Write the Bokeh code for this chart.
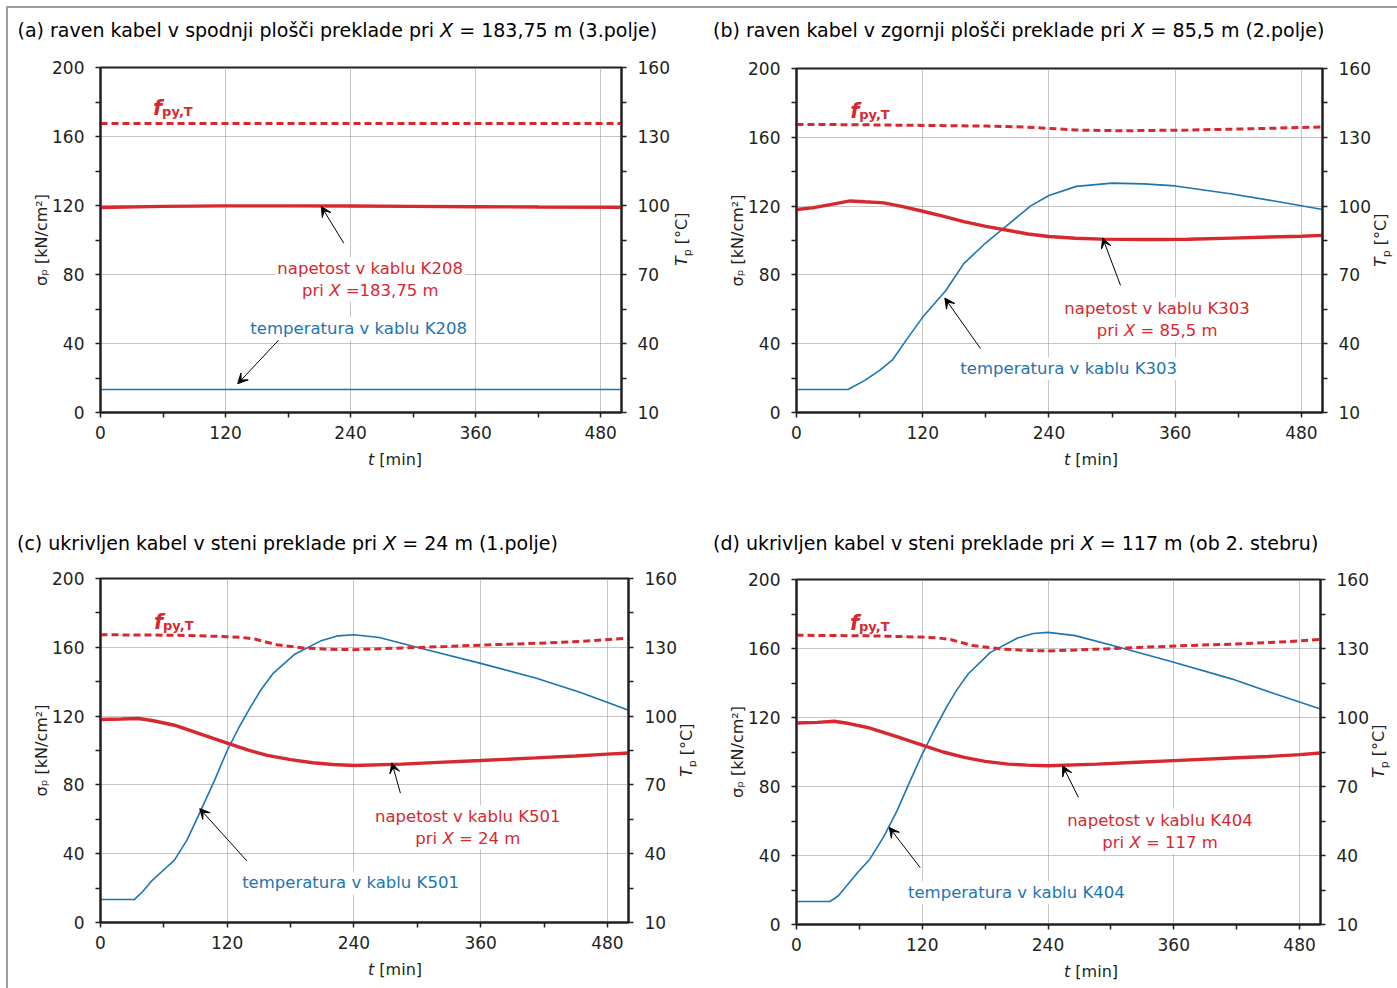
import math
from bokeh.plotting import figure
from bokeh.models import Range1d, LinearAxis, Label, Arrow, VeeHead, FixedTicker, Div
from bokeh.layouts import row, column
from bokeh.embed import file_html
from bokeh.resources import INLINE

# ---------------- data ----------------
x_ticks = [0, 120, 240, 360, 480]
x_minor = [60, 180, 300, 420]
sig_ticks = [0, 40, 80, 120, 160, 200]
sig_minor = [20, 60, 100, 140, 180]
temp_ticks = [10, 40, 70, 100, 130, 160]
temp_minor = [25, 55, 85, 115, 145]

# (a)
a_t_sig = [0, 60, 120, 180, 240, 300, 360, 420, 500]
a_sig = [118.8, 119.5, 119.8, 119.8, 119.7, 119.5, 119.3, 119.1, 118.9]
a_t_fpy = [0, 500]
a_fpy = [167.5, 167.5]
a_t_temp = [0, 500]
a_temp = [20.0, 20.0]

# (b)
b_t_sig = [0, 15, 32, 51, 65, 83, 100, 120, 140, 159, 180, 202, 220, 240, 265, 290, 330, 372, 414, 450, 480, 500]
b_sig = [118.0, 119.0, 120.9, 123.0, 122.5, 121.9, 119.8, 117.0, 114.0, 111.0, 108.2, 105.8, 103.8, 102.3, 101.3, 100.8, 100.6, 100.7, 101.4, 102.0, 102.5, 103.0]
b_t_fpy = [0, 60, 120, 180, 220, 240, 266, 308, 372, 435, 500]
b_fpy = [167.5, 167.3, 166.9, 166.5, 165.9, 165.2, 164.2, 163.8, 164.2, 165.0, 166.0]
b_t_temp = [0, 49, 65, 79, 91, 105, 120, 142, 159, 180, 202, 223, 240, 266, 300, 330, 360, 414, 457, 500]
b_temp = [20, 20, 24, 28.4, 32.8, 42, 51.6, 63.2, 74.9, 84, 92.3, 100.2, 104.6, 108.6, 110, 109.7, 108.8, 105.3, 102, 98.5]

# (c)
c_t_sig = [0, 20, 36, 50, 70, 95, 120, 140, 158, 180, 201, 220, 240, 285, 320, 360, 412, 450, 480, 501]
c_sig = [118.0, 118.3, 118.6, 117.3, 114.7, 109.5, 104.3, 100.2, 97.2, 94.7, 92.9, 91.9, 91.3, 92.1, 93.1, 94.2, 95.7, 96.8, 97.9, 98.6]
c_t_fpy = [0, 74, 120, 133, 146, 167, 192, 215, 240, 285, 327, 370, 412, 454, 501]
c_fpy = [167.3, 167.0, 166.2, 165.8, 164.8, 161.5, 159.6, 158.9, 158.6, 159.6, 160.5, 161.5, 162.3, 163.4, 165.4]
c_t_temp = [0, 32, 40, 49, 60, 70, 82, 95, 108, 120, 131, 142, 152, 163, 184, 209, 225, 240, 264, 306, 360, 412, 454, 501]
c_temp = [20, 20, 23.5, 28.4, 33, 37.2, 46, 58.9, 72, 85, 95, 103.9, 111.5, 118.4, 127, 132.9, 135, 135.5, 134.3, 129.3, 123, 116.6, 110.4, 102.4]

# (d)
d_t_sig = [0, 20, 36, 50, 70, 95, 120, 140, 160, 180, 202, 220, 240, 287, 320, 360, 415, 450, 480, 500]
d_sig = [116.8, 117.2, 117.8, 116.5, 113.9, 109.0, 104.0, 100.0, 96.9, 94.6, 93.0, 92.4, 92.0, 93.0, 93.9, 95.0, 96.5, 97.4, 98.5, 99.4]
d_t_fpy = [0, 74, 120, 134, 147, 168, 194, 215, 240, 287, 330, 372, 415, 457, 500]
d_fpy = [167.7, 167.3, 166.6, 166.2, 165.2, 161.7, 159.8, 159.0, 158.6, 159.6, 160.7, 161.7, 162.5, 163.6, 165.2]
d_t_temp = [0, 32, 40, 50, 60, 70, 83, 96, 108, 120, 132, 143, 153, 164, 185, 211, 226, 240, 266, 308, 360, 415, 457, 500]
d_temp = [20, 20, 22.5, 28, 33.5, 38.4, 48, 59.5, 72, 84.1, 95, 104.4, 112, 119, 128.3, 134.6, 136.5, 137, 135.6, 130.5, 124, 116.8, 110.2, 103.7]

titles_html = [
    "(a) raven kabel v spodnji plošči preklade pri <i>X</i> = 183,75 m (3.polje)",
    "(b) raven kabel v zgornji plošči preklade pri <i>X</i> = 85,5 m (2.polje)",
    "(c) ukrivljen kabel v steni preklade pri <i>X</i> = 24 m (1.polje)",
    "(d) ukrivljen kabel v steni preklade pri <i>X</i> = 117 m (ob 2. stebru)",
]
sig_label = "σₚ [kN/cm²]"
temp_label_html = '<i>T</i><sub style="font-size:11px">p</sub> [°C]'
time_label_html = '<i>t</i> [min]'
red_line1 = ["napetost v kablu K208", "napetost v kablu K303", "napetost v kablu K501", "napetost v kablu K404"]
red_line2 = [("pri ", "X", " =183,75 m"), ("pri ", "X", " = 85,5 m"), ("pri ", "X", " = 24 m"), ("pri ", "X", " = 117 m")]
blue_text = ["temperatura v kablu K208", "temperatura v kablu K303", "temperatura v kablu K501", "temperatura v kablu K404"]

# ---------------- styling helpers ----------------
FONT = "DejaVu Sans"
RED = "#d7282f"
BLUE = "#1b75b3"
INK = "#231f20"
GRID = "#8c8c8c"

W = {' ': .318, '(': .390, ')': .390, ',': .318, '.': .318, '=': .838, '[': .390, ']': .390, '/': .337,
     '°': .500, 'a': .613, 'b': .635, 'c': .550, 'č': .550, 'd': .635, 'e': .615, 'i': .278, 'j': .278,
     'k': .579, 'l': .278, 'm': .974, 'n': .634, 'o': .612, 'p': .635, 'r': .411, 's': .521, 'š': .521,
     't': .392, 'u': .634, 'v': .592, 'z': .525, 'g': .635, 'C': .698, 'K': .656, 'N': .748, 'T': .611,
     'X': .685, 'σ': .635}
for _d in "0123456789":
    W[_d] = .636


def tw(s, size):
    return sum(W.get(ch, .6) for ch in s) * size


def rich(p, parts, x, y, units="data", align="center", bg=None):
    total = sum(tw(s, sz) for s, sz, *_ in parts)
    cum = -total / 2 if align == "center" else 0.0
    for s, sz, style, color, shift in parts:
        lead = len(s) - len(s.lstrip())
        txt = s.strip()
        off = cum + tw(s[:lead], sz)
        cum += tw(s, sz)
        if not txt:
            continue
        kw = {}
        if bg:
            kw = dict(background_fill_color=bg, padding=2)
        p.add_layout(Label(x=x, y=y, x_units=units, y_units=units, text=txt, x_offset=off, y_offset=shift,
                           text_font=FONT, text_font_size=f"{sz}px", text_font_style=style,
                           text_color=color, text_align="left", text_baseline="alphabetic", **kw))


def style_axis(ax, standoff, label=None, label_standoff=0):
    ax.axis_line_color = INK
    ax.axis_line_width = 2
    ax.major_tick_line_color = INK
    ax.minor_tick_line_color = INK
    ax.major_tick_line_width = 1.5
    ax.minor_tick_line_width = 1.5
    ax.major_tick_in = 0
    ax.major_tick_out = 5
    ax.minor_tick_in = 0
    ax.minor_tick_out = 5
    ax.major_label_text_font = FONT
    ax.major_label_text_font_size = "17px"
    ax.major_label_text_color = INK
    ax.major_label_standoff = standoff
    if label is not None:
        ax.axis_label = label
        ax.axis_label_text_font = FONT
        ax.axis_label_text_font_size = "16px"
        ax.axis_label_text_font_style = "normal"
        ax.axis_label_text_color = INK
        ax.axis_label_standoff = label_standoff


def title_div(i, width, height, pad_top, pad_left):
    html = (f'<div style="font-family:\'DejaVu Sans\'; font-size:19px; line-height:22px; '
            f'padding-top:{pad_top}px; padding-left:{pad_left}px; white-space:nowrap; color:#000; margin:0">'
            f'{titles_html[i]}</div>')
    return Div(text=html, width=width, height=height, margin=0)


def right_label_div(width, height, left, start):
    html = (f'<div style="width:0; height:0; margin:0; margin-left:{left}px; margin-top:{start:.1f}px;">'
            f'<div style="transform:rotate(-90deg); transform-origin:0 0; white-space:nowrap; '
            f'font-family:\'DejaVu Sans\'; font-size:16px; line-height:16px; color:{INK}">'
            f'{temp_label_html}</div></div>')
    return Div(text=html, width=width, height=height, margin=0)


def bottom_label_div(width, height, left, top):
    html = (f'<div style="margin:0; padding-top:{top:.2f}px; padding-left:{left}px; white-space:nowrap; '
            f'font-family:\'DejaVu Sans\'; font-size:16px; line-height:16px; color:{INK}">'
            f'{time_label_html}</div>')
    return Div(text=html, width=width, height=height, margin=0)


def panel(i, width, height, bl, br, bt, bb, ts, ss, tf, sf, tt, st, red_pos, blue_pos, red_arrow, blue_arrow,
          fpy_pos):
    p = figure(width=width, height=height, x_range=Range1d(0, 500), y_range=Range1d(0, 200),
               output_backend="svg", toolbar_location=None,
               min_border_left=bl, min_border_right=br, min_border_top=bt, min_border_bottom=bb)
    p.extra_y_ranges = {"T": Range1d(10, 160)}
    p.background_fill_color = "white"
    p.border_fill_color = "white"
    p.outline_line_color = INK
    p.outline_line_width = 2

    p.xaxis.ticker = FixedTicker(ticks=x_ticks, minor_ticks=x_minor)
    p.yaxis.ticker = FixedTicker(ticks=sig_ticks, minor_ticks=sig_minor)
    rax = LinearAxis(y_range_name="T", ticker=FixedTicker(ticks=temp_ticks, minor_ticks=temp_minor))
    p.add_layout(rax, "right")
    style_axis(p.xaxis[0], 8)
    style_axis(p.yaxis[0], 11, sig_label, -2)
    style_axis(rax, 11)

    p.xgrid.ticker = FixedTicker(ticks=x_ticks[1:])
    p.ygrid.ticker = FixedTicker(ticks=sig_ticks[1:-1])
    for g in (p.xgrid[0], p.ygrid[0]):
        g.grid_line_color = GRID
        g.grid_line_dash = "1 1"
        g.grid_line_width = 1

    # series
    p.line(tt, st, line_color=BLUE, line_width=1.6, y_range_name="T")
    p.line(tf, sf, line_color=RED, line_width=3, line_dash="7 4")
    p.line(ts, ss, line_color=RED, line_width=3.4)

    # arrows
    for (x0, y0, x1, y1) in (red_arrow, blue_arrow):
        p.add_layout(Arrow(x_start=x0, y_start=y0, x_end=x1, y_end=y1, line_color="black", line_width=1,
                           end=VeeHead(size=10, line_color="black", fill_color="black", line_width=1)))

    # annotation texts
    rx, ry1, ry2 = red_pos
    rich(p, [(red_line1[i], 16.5, "normal", RED, 0)], rx, ry1, bg="white")
    a_, b_, c_ = red_line2[i]
    rich(p, [(a_, 16.5, "normal", RED, 0), (b_, 16.5, "italic", RED, 0), (c_, 16.5, "normal", RED, 0)],
         rx, ry2, bg="white")
    bx, by = blue_pos
    rich(p, [(blue_text[i], 16.5, "normal", BLUE, 0)], bx, by, bg="white")

    fx, fy = fpy_pos
    p.add_layout(Label(x=fx, y=fy, text="f", text_font=FONT, text_font_size="21px", text_font_style="bold italic",
                       text_color=RED, text_align="left", text_baseline="alphabetic"))
    p.add_layout(Label(x=fx, y=fy, x_offset=9, y_offset=-3.5, text="py,T", text_font=FONT, text_font_size="13px",
                       text_font_style="bold", text_color=RED, text_align="left", text_baseline="alphabetic"))
    return p


RLEN = 53.5   # approx. length of the rotated right-axis title
AXB = 40      # space kept under the frame for the x tick labels
XLAB_BASE = 54  # baseline of "t [min]" below the frame


def build(i, col_w, fig_h, bl, frame_w, br, bt, bb, title_h, title_pad, title_left, lab_left, *args):
    fig_w = bl + frame_w + br
    fh = fig_h - bt - bb
    new_h = bt + fh + AXB
    p = panel(i, fig_w, new_h, bl, br, bt, AXB, *args)
    rdiv = right_label_div(col_w - fig_w, new_h, lab_left, bt + fh / 2 + RLEN / 2)
    bdiv = bottom_label_div(col_w, bb - AXB, bl + 268, XLAB_BASE - AXB - 13.55)
    return column(title_div(i, col_w, title_h, title_pad, title_left), row(p, rdiv, spacing=0), bdiv, spacing=0)


col_a = build(0, 688, 462, 92, 522, 50, 19, 98, 40, 11.4, 9.5, 2,
              a_t_sig, a_sig, a_t_fpy, a_fpy, a_t_temp, a_temp,
              (257, 83.5, 70.9), (246, 48.6), (233.5, 98.1, 212, 119.4), (171.5, 42.3, 131.7, 16.7), (50.5, 176.5))
col_b = build(1, 701, 462, 100, 527, 50, 20, 98, 40, 11.4, 17, 0,
              b_t_sig, b_sig, b_t_fpy, b_fpy, b_t_temp, b_temp,
              (341, 60.3, 47.8), (257, 25.5), (308, 73.9, 291, 101.5), (175, 37.1, 141, 66.5), (51, 175.4))
col_c = build(2, 688, 433, 92, 529, 50, 23, 66, 45, 21.8, 9, 0,
              c_t_sig, c_sig, c_t_fpy, c_fpy, c_t_temp, c_temp,
              (346, 61.7, 49.1), (235, 23.0), (284, 75.2, 276, 92.8), (138.6, 35.8, 94, 66.2), (50.7, 174.5))
col_d = build(3, 701, 433, 100, 525, 50, 24, 64, 45, 22.4, 17, 0,
              d_t_sig, d_sig, d_t_fpy, d_fpy, d_t_temp, d_temp,
              (345, 60.5, 47.6), (208, 18.6), (269, 73.7, 254, 92), (118, 33, 88.5, 56.3), (51, 174.5))

GRAY = "#9d9d9d"
top_bar = row(Div(width=6, height=8, margin=0),
              Div(width=1391, height=8, margin=0,
                  styles={"background": f"linear-gradient(to bottom, #ffffff 6px, {GRAY} 6px)"}),
              spacing=0)
left_bar = Div(width=8, height=980, margin=0,
               styles={"background": f"linear-gradient(to right, #ffffff 6px, {GRAY} 6px)"})
content = column(row(col_a, col_b, spacing=0), row(col_c, col_d, spacing=0), spacing=0)
root = column(top_bar, row(left_bar, content, spacing=0), spacing=0)

open("out.html", "w").write(file_html(root, INLINE))
